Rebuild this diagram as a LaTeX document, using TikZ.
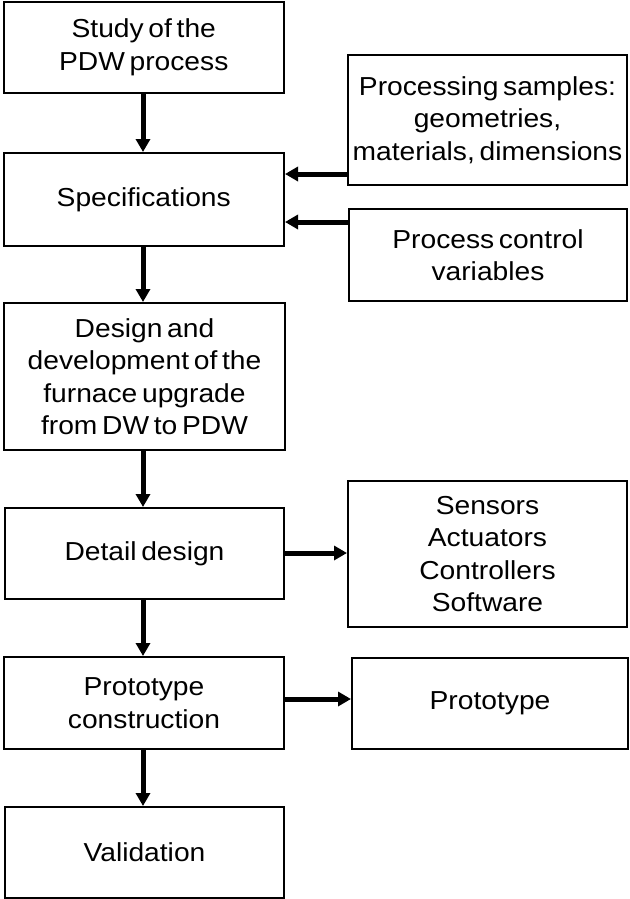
\documentclass[tikz,border=0pt]{standalone}
\usepackage{fontspec}
\setmainfont[FakeStretch=1.085,WordSpace=0.6]{Liberation Sans}
\usetikzlibrary{arrows.meta}
\tikzset{
  box/.style={draw=black, line width=2pt, fill=white, inner sep=0pt,
    align=center, font=\fontsize{26}{32.5}\selectfont},
  arr/.style={line width=5pt, -{Triangle[width=14pt,length=13pt]}}
}
\begin{document}
\begin{tikzpicture}[x=1pt,y=-1pt]
\useasboundingbox (0,0) rectangle (629,899);

% main process chain
\node[box, minimum width=280.5pt, minimum height=91pt]  (b1) at (143.75,47.5)  {Study of the\\PDW process};
\node[box, minimum width=280.5pt, minimum height=93pt]  (b2) at (143.75,199.5) {Specifications};
\node[box, minimum width=281pt,   minimum height=147pt] (b3) at (144.5,376.5)  {Design and\\development of the\\furnace upgrade\\from DW to PDW};
\node[box, minimum width=279pt,   minimum height=91pt]  (b4) at (144.5,553.5)  {Detail design};
\node[box, minimum width=280pt,   minimum height=92pt]  (b5) at (144,703)      {Prototype\\construction};
\node[box, minimum width=279pt,   minimum height=91pt]  (b6) at (144.5,852.5)  {Validation};

% inputs and outputs
\node[box, minimum width=279pt, minimum height=130pt] (r1) at (487.5,120)   {Processing samples:\\geometries,\\materials, dimensions};
\node[box, minimum width=278pt, minimum height=92pt]  (r2) at (488,255)     {Process control\\variables};
\node[box, minimum width=279pt, minimum height=146pt] (r3) at (487.5,554)   {Sensors\\Actuators\\Controllers\\Software};
\node[box, minimum width=276pt, minimum height=91pt]  (r4) at (490,703.5)   {Prototype};

% vertical flow
\draw[arr] (b1.south -| 143,0) -- (b2.north -| 143,0);
\draw[arr] (b2.south -| 143,0) -- (b3.north -| 143,0);
\draw[arr] (b3.south -| 143,0) -- (b4.north -| 143,0);
\draw[arr] (b4.south -| 143,0) -- (b5.north -| 143,0);
\draw[arr] (b5.south -| 143,0) -- (b6.north -| 143,0);

% side connections
\draw[arr] (r1.west |- 0,174) -- (b2.east |- 0,174);
\draw[arr] (r2.west |- 0,222) -- (b2.east |- 0,222);
\draw[arr] (b4.east |- 0,553) -- (r3.west |- 0,553);
\draw[arr] (b5.east |- 0,699) -- (r4.west |- 0,699);
\end{tikzpicture}
\end{document}
